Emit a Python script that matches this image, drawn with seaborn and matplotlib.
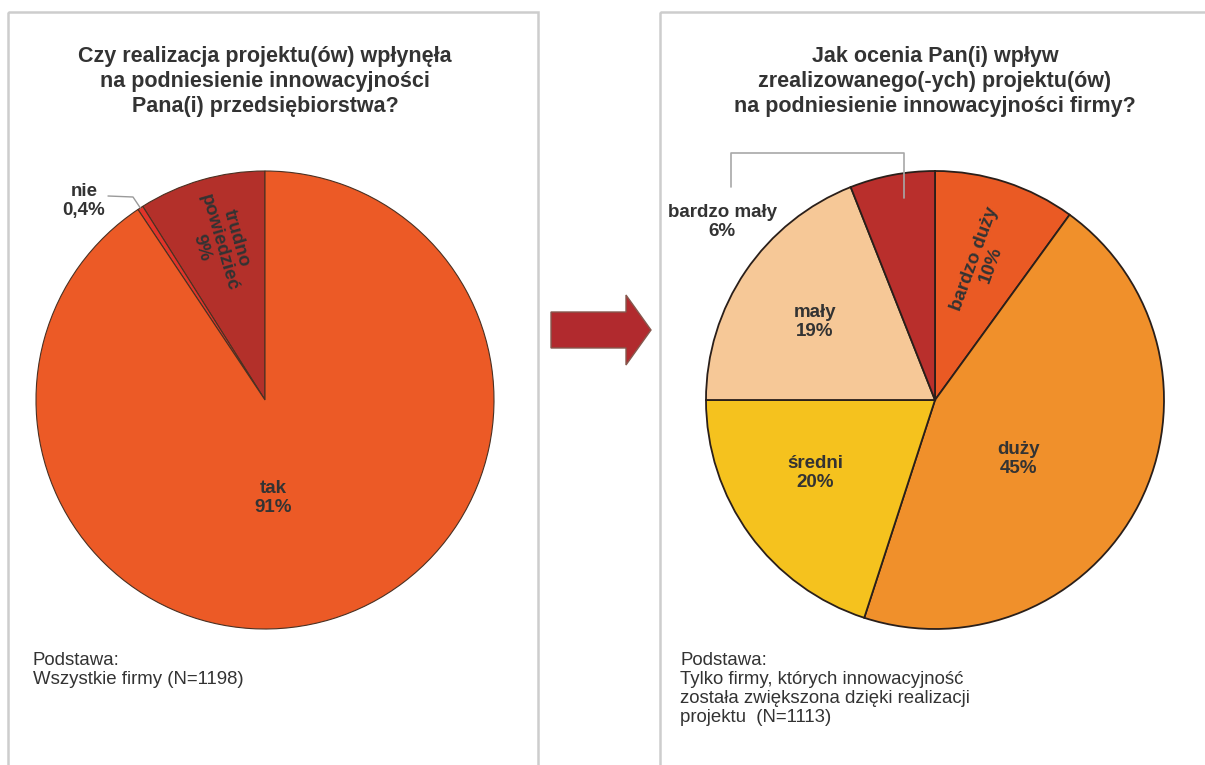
import numpy as np
import matplotlib
matplotlib.use("Agg")
import matplotlib.pyplot as plt
from matplotlib.patches import Rectangle, FancyArrow
import seaborn as sns

sns.set_theme(style="white")
plt.rcParams["font.family"] = ["Liberation Sans", "DejaVu Sans"]

# ---- data: left question ----
left_title = "Czy realizacja projektu(ów) wpłynęła\nna podniesienie innowacyjności\nPana(i) przedsiębiorstwa?"
left_categories = ["trudno\npowiedzieć", "nie", "tak"]
left_values = [9, 0.4, 91]
left_pct_labels = ["9%", "0,4%", "91%"]
left_colors = sns.color_palette(["#B3302A", "#E2342A", "#EC5A26"])
left_base = "Podstawa:\nWszystkie firmy (N=1198)"

# ---- data: right question ----
right_title = ("Jak ocenia Pan(i) wpływ\nzrealizowanego(-ych) projektu(ów)\n"
               "na podniesienie innowacyjności firmy?")
right_categories = ["bardzo duży", "duży", "średni", "mały", "bardzo mały"]
right_values = [10, 45, 20, 19, 6]
right_pct_labels = ["10%", "45%", "20%", "19%", "6%"]
right_colors = sns.color_palette(["#EA5A24", "#F0902B", "#F5C21E", "#F6C897", "#B92F2C"])
right_base = ("Podstawa:\nTylko firmy, których innowacyjność\n"
              "została zwiększona dzięki realizacji\nprojektu  (N=1113)")

W, H = 1205, 765
TXT = "#333333"
fig = plt.figure(figsize=(W / 100, H / 100), dpi=100, facecolor="white")

# full-canvas layer in pixel units for frames, titles and the arrow
bg = fig.add_axes([0, 0, 1, 1], zorder=0)
bg.set_xlim(0, W)
bg.set_ylim(H, 0)
bg.axis("off")

for x0, w in [(8, 530), (660, 600)]:
    bg.add_patch(Rectangle((x0, 12), w, 800, fill=False, ec="#cdcdcd", lw=1.8))

bg.text(265, 81, left_title, ha="center", va="center", fontsize=15.5,
        fontweight="bold", color=TXT, linespacing=1.25)
bg.text(935, 81, right_title, ha="center", va="center", fontsize=15.5,
        fontweight="bold", color=TXT, linespacing=1.25)
bg.text(33, 652, left_base, ha="left", va="top", fontsize=13.4, color=TXT,
        linespacing=1.15)
bg.text(680, 652, right_base, ha="left", va="top", fontsize=13.4, color=TXT,
        linespacing=1.15)

bg.add_patch(FancyArrow(551, 330, 100, 0, width=36, head_width=70, head_length=25,
                        length_includes_head=True, fc="#B12A2E", ec="#85584e", lw=1))


def pie_axes(cx, cy, r):
    ax = fig.add_axes([(cx - r) / W, (H - cy - r) / H, 2 * r / W, 2 * r / H], zorder=1)
    ax.patch.set_alpha(0)
    return ax


def px(cx, cy, r, x, y):
    return (x - cx) / r, (cy - y) / r


def mid_point(w, rad):
    a = np.deg2rad((w.theta1 + w.theta2) / 2)
    return rad * np.cos(a), rad * np.sin(a)


# ---- left pie ----
LCX, LCY, LR = 265, 400, 229
axl = pie_axes(LCX, LCY, LR)
wl, _ = axl.pie(left_values, colors=left_colors, startangle=90, counterclock=True,
                radius=1, wedgeprops=dict(edgecolor="#4a3022", linewidth=0.8))
axl.set_xlim(-1, 1)
axl.set_ylim(-1, 1)
axl.set_aspect("equal", adjustable="box")
axl.axis("off")

lab = dict(ha="center", va="center", fontsize=13.5, fontweight="bold", color=TXT)
axl.text(*px(LCX, LCY, LR, 273, 498), f"{left_categories[2]}\n{left_pct_labels[2]}",
         linespacing=1.2, **lab)
axl.text(*px(LCX, LCY, LR, 219, 243), f"{left_categories[0]}\n{left_pct_labels[0]}",
         rotation=-74, rotation_mode="anchor", linespacing=1.08, **lab)
axl.text(*px(LCX, LCY, LR, 84, 201), f"{left_categories[1]}\n{left_pct_labels[1]}",
         linespacing=1.2, **lab)
ex, ey = mid_point(wl[1], 1.0)
l1 = px(LCX, LCY, LR, 108, 196)
l2 = px(LCX, LCY, LR, 133, 197)
axl.plot([l1[0], l2[0], ex], [l1[1], l2[1], ey], color="#9a9a9a", lw=1, clip_on=False)

# ---- right pie ----
RCX, RCY, RR = 935, 400, 229
axr = pie_axes(RCX, RCY, RR)
wr, _ = axr.pie(right_values, colors=right_colors, startangle=90, counterclock=False,
                radius=1, wedgeprops=dict(edgecolor="#2a1f1a", linewidth=1.3))
axr.set_xlim(-1, 1)
axr.set_ylim(-1, 1)
axr.set_aspect("equal", adjustable="box")
axr.axis("off")

label_px = {1: (1018, 459), 2: (815, 473), 3: (815, 322), 4: (722, 222)}
for i, (x, y) in label_px.items():
    axr.text(*px(RCX, RCY, RR, x, y), f"{right_categories[i]}\n{right_pct_labels[i]}",
             linespacing=1.2, **lab)
axr.text(*px(RCX, RCY, RR, 983, 262), f"{right_categories[0]}\n{right_pct_labels[0]}",
         rotation=70, rotation_mode="anchor", linespacing=1.08, **lab)

bx, by = mid_point(wr[4], 0.9)
b1 = px(RCX, RCY, RR, 731, 187)
b2 = px(RCX, RCY, RR, 731, 153)
b3 = px(RCX, RCY, RR, 904, 153)
axr.plot([b1[0], b2[0], b3[0], b3[0]], [b1[1], b2[1], b3[1], by],
         color="#a8a8a8", lw=1.2, clip_on=False)

fig.savefig("out.png", dpi=100, facecolor="white")
